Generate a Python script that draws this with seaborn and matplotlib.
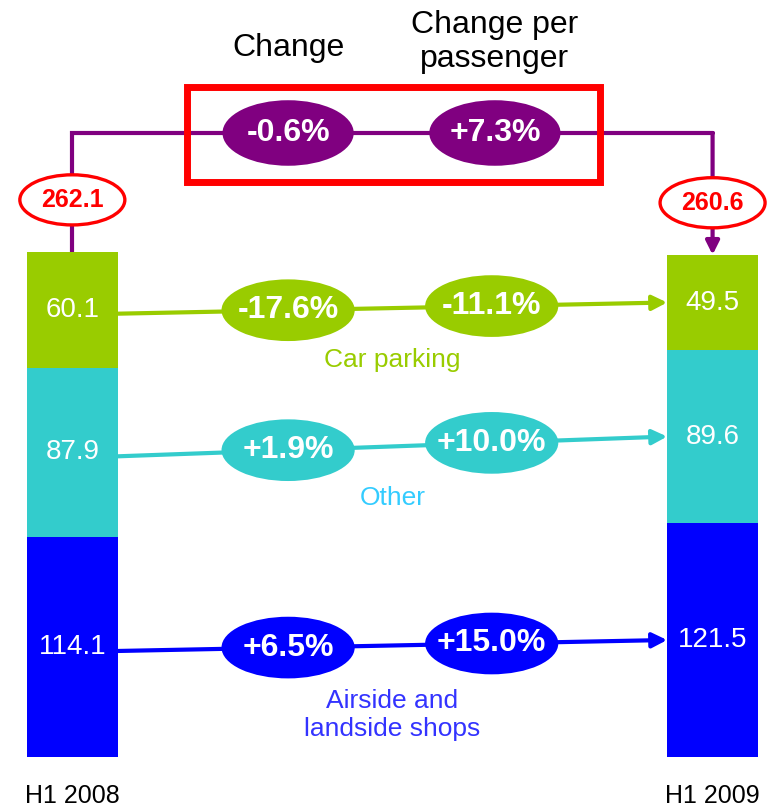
import matplotlib
matplotlib.use("Agg")
import matplotlib.pyplot as plt
from matplotlib.patches import Ellipse, Rectangle
import seaborn as sns
import pandas as pd

# Data
periods = ["H1 2008", "H1 2009"]
segments = ["Airside and\nlandside shops", "Other", "Car parking"]
shops = [114.1, 121.5]
other = [87.9, 89.6]
car_parking = [60.1, 49.5]
totals = [262.1, 260.6]
change = ["+6.5%", "+1.9%", "-17.6%"]
change_per_pax = ["+15.0%", "+10.0%", "-11.1%"]
total_change = "-0.6%"
total_change_pp = "+7.3%"

seg_colors = ["#0000ff", "#33cccc", "#99cc00"]
label_colors = ["#3333ff", "#33ccff", "#99cc00"]
purple = "#800080"
red = "#ff0000"

regular = ["Liberation Sans", "DejaVu Sans"]

sns.set_style("white")

fig = plt.figure(figsize=(7.67, 8.07), dpi=100)
ax = fig.add_axes([0, 0, 1, 1])

bar_w = 0.142
values = [shops, other, car_parking]
df = pd.DataFrame({"period": periods, "shops": shops, "other": other, "car": car_parking})
df["c1"] = df["shops"]
df["c2"] = df["shops"] + df["other"]
df["c3"] = df["c2"] + df["car"]

# stacked bars: draw cumulative totals from the top layer down
for col, c in zip(["c3", "c2", "c1"], seg_colors[::-1]):
    sns.barplot(data=df, x="period", y=col, color=c, width=bar_w,
                saturation=1, linewidth=0, ax=ax, zorder=2)

ax.set_xlim(-0.113, 1.085)
ax.set_ylim(-25.9, 392.8)
ax.axis("off")

# segment value labels, arrows and change ellipses
cum = [0.0, 0.0]
for i, seg in enumerate(values):
    mids = [cum[j] + seg[j] / 2 for j in range(2)]
    for j in range(2):
        ax.text(j, mids[j], f"{seg[j]:.1f}", color="white", ha="center",
                va="center", fontsize=20, family=regular, zorder=3)
    x0, x1 = bar_w / 2, 1 - bar_w / 2
    ax.annotate("", xy=(x1, mids[1]), xytext=(x0, mids[0] - 2),
                arrowprops=dict(arrowstyle="-|>", color=seg_colors[i], lw=3,
                                mutation_scale=22, shrinkA=0, shrinkB=0),
                zorder=3)
    for xe, txt in zip([0.337, 0.655], [change[i], change_per_pax[i]]):
        ye = mids[0] - 2 + (mids[1] - mids[0] + 2) * (xe - x0) / (x1 - x0)
        ax.add_patch(Ellipse((xe, ye), 0.208, 32, facecolor=seg_colors[i],
                             edgecolor="none", zorder=4))
        ax.text(xe, ye, txt, color="white", ha="center", va="center",
                fontsize=23, fontweight="bold", family=regular, zorder=5)
    dy = -37 if "\n" in segments[i] else -28
    ax.text(0.5, (mids[0] + mids[1]) / 2 + dy,
            segments[i], color=label_colors[i], ha="center", va="center",
            fontsize=19, family=regular, linespacing=1.2, zorder=3)
    cum = [cum[j] + seg[j] for j in range(2)]

# total connector
top_y = 323.8
ax.plot([0, 0, 1], [totals[0], top_y, top_y], color=purple, lw=3,
        solid_joinstyle="miter", zorder=1)
ax.annotate("", xy=(1, totals[1]), xytext=(1, top_y),
            arrowprops=dict(arrowstyle="-|>", color=purple, lw=3,
                            mutation_scale=20, shrinkA=0, shrinkB=0),
            zorder=1)
for j in range(2):
    ye = totals[j] + 27
    ax.add_patch(Ellipse((j, ye), 0.164, 26, facecolor="white",
                         edgecolor=red, lw=2.4, zorder=4))
    ax.text(j, ye, f"{totals[j]:.1f}", color=red, ha="center", va="center",
            fontsize=18, fontweight="bold", family=regular, zorder=5)

for xe, txt in zip([0.337, 0.66], [total_change, total_change_pp]):
    ax.add_patch(Ellipse((xe, top_y), 0.205, 34, facecolor=purple,
                         edgecolor="none", zorder=4))
    ax.text(xe, top_y, txt, color="white", ha="center", va="center",
            fontsize=23, fontweight="bold", family=regular, zorder=5)

ax.add_patch(Rectangle((0.179, 298.4), 0.824 - 0.179, 347.7 - 298.4,
                       facecolor="none", edgecolor=red, lw=5, zorder=6))

ax.text(0.337, 368, "Change", ha="center", va="center", fontsize=23,
        family=regular, color="black")
ax.text(0.66, 371, "Change per\npassenger", ha="center", va="center",
        fontsize=23, family=regular, color="black", linespacing=1.2)

for j, p in enumerate(periods):
    ax.text(j, -20, p, ha="center", va="center", fontsize=18,
            family=regular, color="black")

fig.savefig("out.png", dpi=100)
